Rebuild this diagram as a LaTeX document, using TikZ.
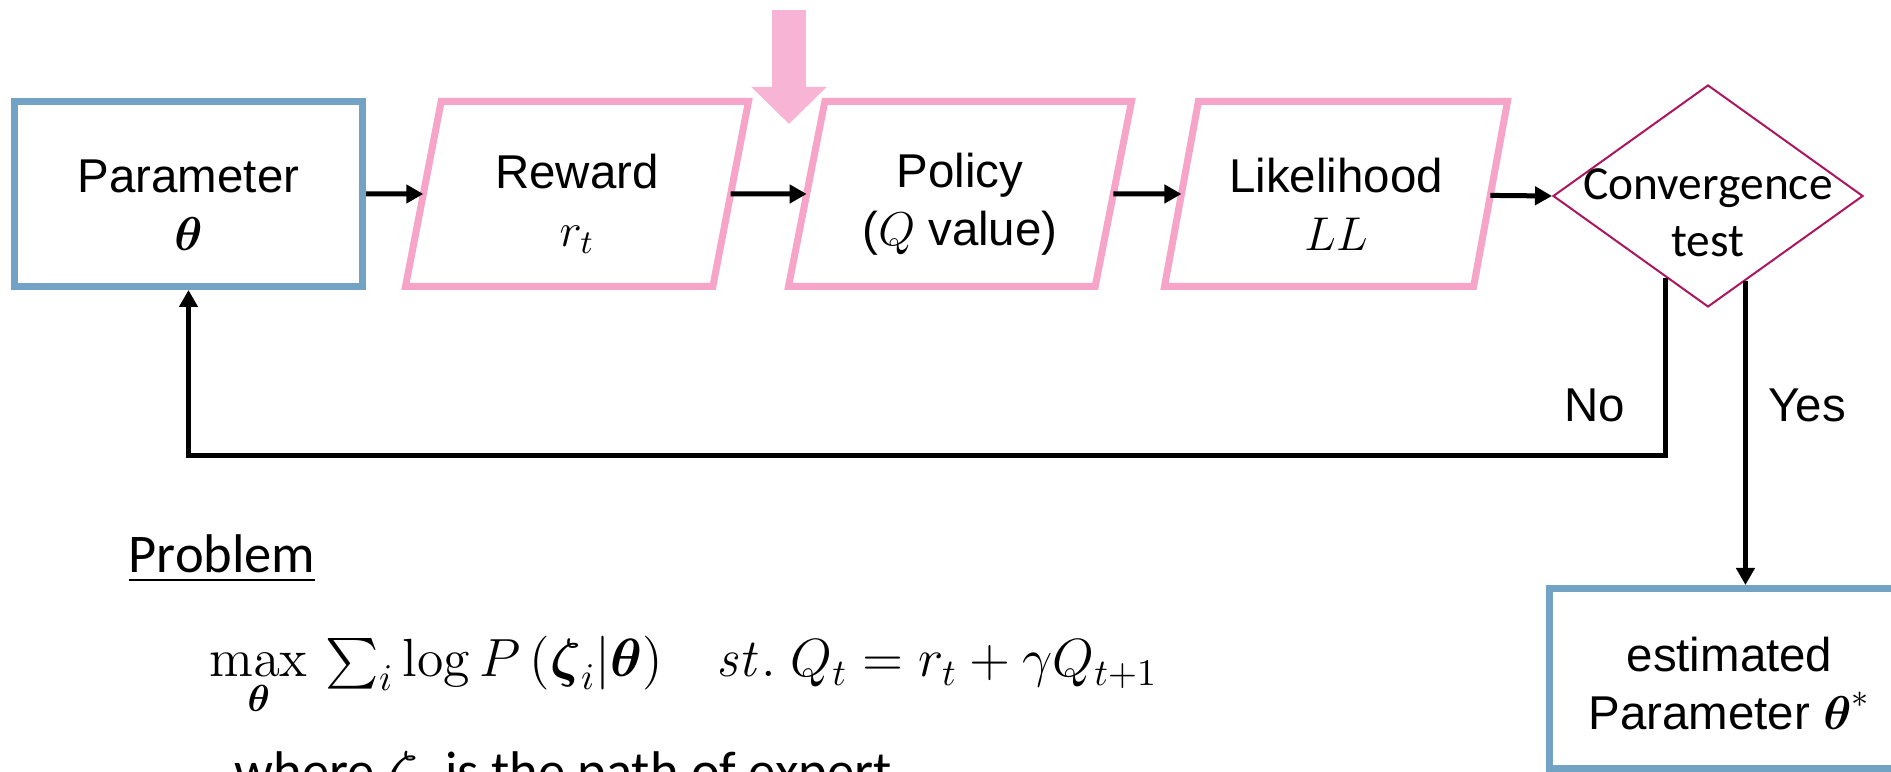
\RequirePackage{fix-cm}
\documentclass[tikz,border=0pt]{standalone}
\usepackage{amsmath}
\usepackage[no-math]{fontspec}
\setmainfont{Liberation Sans}
\newfontfamily\calibri{Carlito}
\usetikzlibrary{arrows.meta, positioning, shapes.geometric, calc}
\definecolor{parablue}{RGB}{114,163,196}
\definecolor{stagepink}{RGB}{246,164,200}
\definecolor{hintpink}{RGB}{247,180,212}
\definecolor{testred}{RGB}{172,22,92}
\newcommand{\boxfont}{\fontsize{13.5}{16.5}\selectfont}
\tikzset{
  param/.style={rectangle, draw=parablue, line width=0.07cm, minimum width=3.48cm, minimum height=1.85cm, align=center, font=\boxfont, text height=32pt},
  stage/.style={trapezium, trapezium left angle=76, trapezium right angle=104, trapezium stretches body, draw=stagepink, line width=0.07cm, outer sep=0pt, minimum width=3.43cm, minimum height=1.85cm, align=center, font=\boxfont, text height=32pt},
  test/.style={diamond, draw=testred, line width=0.02cm, minimum width=3.1cm, minimum height=2.22cm, inner sep=0pt},
  testtext/.style={align=center, yshift=-0.17cm, font=\calibri\fontsize{13.5}{16.2}\selectfont},
  flow/.style={-{Triangle[length=0.17cm, width=0.18cm]}, line width=0.05cm},
  hint/.style={-{Triangle[length=0.37cm, width=0.73cm]}, line width=0.34cm, draw=hintpink},
  answer/.style={font=\boxfont},
  note/.style={font=\calibri\fontsize{15.5}{19}\selectfont, anchor=base west, inner sep=0pt},
  formula/.style={font=\fontsize{15.3}{19}\selectfont, anchor=base west, inner sep=0pt},
}

\begin{document}
\begin{tikzpicture}
  \useasboundingbox (0,0) rectangle (18.91,-7.72);
  \clip (0,0) rectangle (18.91,-7.72);

  \node[param] (param) at (1.885,-1.94) {Parameter\\$\boldsymbol{\theta}$};
  \node[stage] (reward) at (5.77,-1.94) {Reward\\$r_t$};
  \node[stage] (policy) at (9.60,-1.94) {Policy\\($Q$ value)};
  \node[stage] (likelihood) at (13.36,-1.94) {Likelihood\\$LL$};
  \node[test, label={[testtext]center:Convergence\\test}] (conv) at (17.08,-1.96) {};
  \node[param, minimum width=3.6cm, minimum height=1.80cm, text height=29pt] (estimate) at (17.295,-6.785) {estimated\\Parameter $\boldsymbol{\theta}^{*}$};

  \draw[flow] (param) -- (reward);
  \draw[flow] (reward) -- (policy);
  \draw[flow] (policy) -- (likelihood);
  \draw[flow] (likelihood) -- (conv.west);

  \coordinate (hintbase) at (7.89,-0.10);
  \coordinate (hinttip) at (7.89,-1.24);
  \draw[hint] (hintbase) -- (hinttip);

  \coordinate (nostart) at ($(conv.south)!0.27!(conv.west)$);
  \coordinate (yesstart) at ($(conv.south)!0.24!(conv.east)$);
  \draw[flow] (nostart) |- ([yshift=-1.66cm]param.south) -- (param.south);
  \draw[flow] (yesstart) -- (yesstart |- estimate.north);
  \node[answer] (no) at (15.95,-4.05) {No};
  \node[answer] (yes) at (18.07,-4.05) {Yes};

  \node[note] (problem) at (1.28,-5.73) {\underline{Problem}};
  \node[formula] (objective) at (2.09,-6.77) {$\max\limits_{\boldsymbol{\theta}}\, \sum_i \log P\,(\boldsymbol{\zeta}_i|\boldsymbol{\theta})$\quad$\mathit{st.}\ Q_t = r_t + \gamma Q_{t+1}$};
  \node[note] (where) at (2.34,-7.90) {where $\boldsymbol{\zeta}_i$ is the path of expert};
\end{tikzpicture}
\end{document}
